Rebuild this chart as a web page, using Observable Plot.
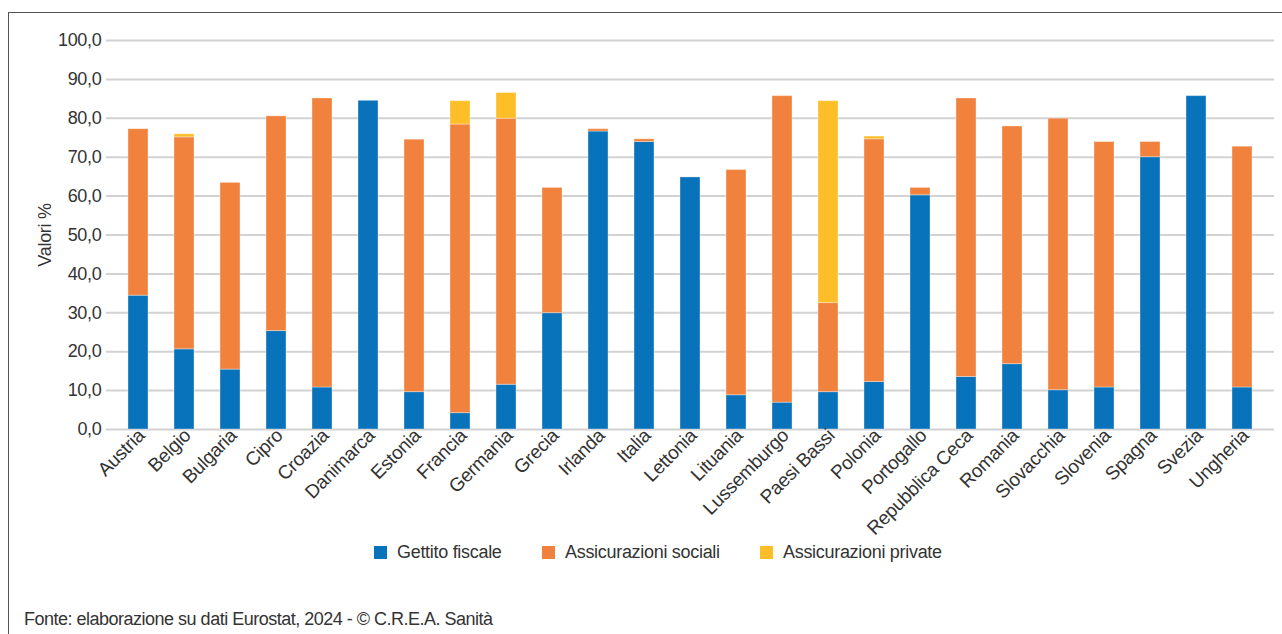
<!DOCTYPE html>
<html>
<head>
<meta charset="utf-8">
<script src="https://cdn.jsdelivr.net/npm/d3@7"></script>
<script src="https://cdn.jsdelivr.net/npm/@observablehq/plot@0.6"></script>
<style>
  html, body { margin: 0; padding: 0; background: #fff; }
  body { width: 1282px; height: 634px; overflow: hidden; position: relative;
         font-family: "Liberation Sans", Arial, sans-serif; color: #333; letter-spacing: -0.3px; }
  #frame { position: absolute; left: 8px; top: 12px; width: 1400px; height: 800px;
           border-left: 1.5px solid #555; border-top: 1.5px solid #555; }
  #chart { position: absolute; left: 0; top: 0; }
  #legend { position: absolute; top: 541px; left: 0; width: 1282px; height: 22px; font-size: 18px; }
  .item { position: absolute; top: 0; display: flex; align-items: center; height: 22px; }
  .sw { width: 13px; height: 13px; margin-right: 10px; }
  #caption { position: absolute; left: 24px; top: 609px; font-size: 18px; color: #333; letter-spacing: -0.5px; }
</style>
</head>
<body>
<div id="frame"></div>
<div id="chart"></div>
<div id="legend"></div>
<div id="caption">Fonte: elaborazione su dati Eurostat, 2024 - © C.R.E.A. Sanità</div>
<script>
const countries = ["Austria","Belgio","Bulgaria","Cipro","Croazia","Danimarca","Estonia","Francia","Germania","Grecia","Irlanda","Italia","Lettonia","Lituania","Lussemburgo","Paesi Bassi","Polonia","Portogallo","Repubblica Ceca","Romania","Slovacchia","Slovenia","Spagna","Svezia","Ungheria"];
const series = ["Gettito fiscale","Assicurazioni sociali","Assicurazioni private"];
const gettito = [34.4,20.6,15.4,25.3,10.8,84.5,9.6,4.2,11.5,29.9,76.6,73.9,64.8,8.8,6.9,9.6,12.2,60.2,13.5,16.8,10.1,10.8,70.0,85.7,10.8];
const sociali = [42.8,54.5,48.0,55.2,74.3,0,64.9,74.2,68.4,32.2,0.6,0.7,0,57.9,78.8,22.9,62.4,1.9,71.6,61.1,69.8,63.1,3.9,0,61.9];
const private_ = [0,0.8,0,0,0,0,0,6.0,6.6,0,0,0,0,0,0,51.9,0.7,0,0,0,0,0,0,0,0];
const colors = ["#0872ba","#f1823d","#fdbe28"];
const yTicks = [0,10,20,30,40,50,60,70,80,90,100];

const rows = [];
const vals = [gettito, sociali, private_];
countries.forEach((c, i) => {
  series.forEach((s, k) => rows.push({paese: c, serie: s, valore: vals[k][i]}));
});

const font = '"Liberation Sans", Arial, sans-serif';
const plot = Plot.plot({
  width: 1282,
  height: 540,
  marginLeft: 106,
  marginRight: 8,
  marginTop: 40,
  marginBottom: 111,
  style: {fontFamily: font, fontSize: "17px", color: "#333", background: "transparent", letterSpacing: "-0.3px"},
  x: {domain: countries, paddingInner: 0.572, paddingOuter: 0.286, label: null},
  y: {domain: [0, 100], label: null},
  color: {domain: series, range: colors},
  marks: [
    Plot.gridY(yTicks, {stroke: "#d2d2d2", strokeOpacity: 1, strokeWidth: 2}),
    Plot.barY(rows, Plot.stackY({x: "paese", y: "valore", fill: "serie", order: series, stroke: "#fff", strokeOpacity: 0.35, strokeWidth: 1})),
    Plot.axisY(yTicks, {tickSize: 0, tickPadding: 5, fontSize: 18, tickFormat: d => d.toFixed(1).replace(".", ","),
      label: "Valori %", labelAnchor: "center", labelArrow: "none", labelOffset: 68}),
    Plot.axisX({tickSize: 0, tickPadding: 3, tickRotate: -45, fontSize: 19, dx: 3, label: null})
  ]
});
document.getElementById("chart").appendChild(plot);

const legend = document.getElementById("legend");
const lx = [374, 542, 760];
series.forEach((s, k) => {
  const d = document.createElement("div");
  d.className = "item";
  d.style.left = lx[k] + "px";
  d.innerHTML = `<div class="sw" style="background:${colors[k]}"></div><span>${s}</span>`;
  legend.appendChild(d);
});
</script>
</body>
</html>
